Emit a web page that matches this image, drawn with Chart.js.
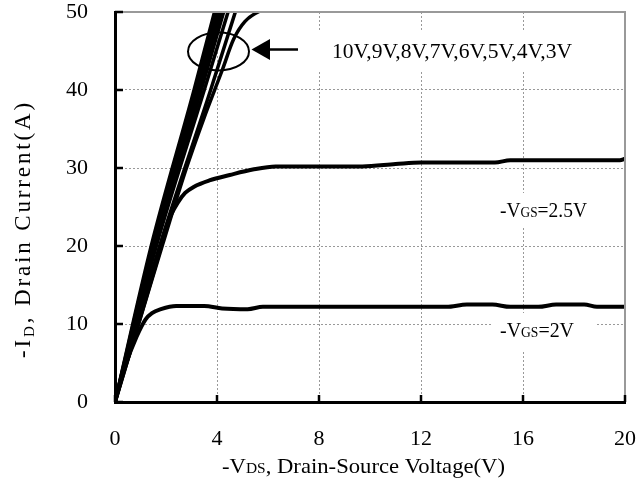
<!DOCTYPE html>
<html>
<head>
<meta charset="utf-8">
<script src="https://cdn.jsdelivr.net/npm/chart.js@4.4.0/dist/chart.umd.min.js"></script>
<style>
  html, body { margin: 0; padding: 0; background: #fff; }
</style>
</head>
<body>
<canvas id="chart" width="638" height="479"></canvas>
<script>
// axis ticks
var xTicks = [0, 4, 8, 12, 16, 20];
var yTicks = [0, 10, 20, 30, 40, 50];

// -VGS = 2V
var vds2 = [0, 0.4, 0.85, 1.2, 1.45, 1.8, 2.4, 3.5, 4.2, 5.2, 5.8, 7, 9, 11, 13, 13.8, 14.8, 15.5, 16.6, 17.3, 18.4, 18.9, 20];
var id2  = [0, 4.6, 8.4, 10.6, 11.4, 11.9, 12.3, 12.3, 12.0, 11.9, 12.2, 12.2, 12.2, 12.2, 12.2, 12.5, 12.5, 12.2, 12.2, 12.5, 12.5, 12.2, 12.2];

// -VGS = 2.5V
var vds25 = [0, 0.8, 1.2, 1.65, 2.0, 2.2, 2.45, 2.75, 3.1, 3.7, 4.5, 5.4, 6.3, 7, 9.7, 11, 12, 14.9, 15.5, 19.8, 20];
var id25  = [0, 8.8, 13.2, 18.2, 22.3, 24.0, 25.5, 26.8, 27.6, 28.4, 29.1, 29.8, 30.2, 30.2, 30.2, 30.5, 30.7, 30.7, 31.0, 31.0, 31.2];

// -VGS = 3V
var vds3 = [0, 1, 1.85, 2.75, 3.5, 4.2, 4.65, 5.1, 5.8, 6.5];
var id3  = [0, 10.8, 20, 29.5, 36.5, 42.5, 46.5, 48.8, 50.3, 51];

// -VGS = 4V .. 10V (nearly linear, run off the top)
var idSteep = [0, 20, 40, 55];
var vds4  = [0, 1.75, 3.75, 5.2];
var vds5  = [0, 1.62, 3.5, 4.9];
var vds6  = [0, 1.57, 3.38, 4.7];
var vds7  = [0, 1.53, 3.3, 4.6];
var vds8  = [0, 1.5, 3.24, 4.5];
var vds9  = [0, 1.46, 3.17, 4.4];
var vds10 = [0, 1.42, 3.1, 4.3];

var F = "'Liberation Serif', 'Times New Roman', serif";

function pts(xs, ys) {
  return xs.map(function (x, i) { return { x: x, y: ys[i] }; });
}

function curve(label, xs, ys, w) {
  return {
    label: label,
    data: pts(xs, ys),
    borderColor: '#000',
    borderWidth: w,
    pointRadius: 0,
    cubicInterpolationMode: 'monotone',
    clip: 0
  };
}

// draw text made of pieces [text, size, dy], fitted to a target width
// spread: use letter spacing instead of stretching the glyphs
function rich(ctx, parts, x, y, width, spread) {
  var w = 0, n = 0;
  parts.forEach(function (p) {
    ctx.font = p[1] + 'px ' + F;
    w += ctx.measureText(p[0]).width;
    n += p[0].length;
  });
  ctx.save();
  ctx.translate(x, y);
  var gap = 0;
  if (width && spread && 'letterSpacing' in ctx) {
    gap = (width - w) / n;
    ctx.letterSpacing = gap + 'px';
  } else if (width) {
    ctx.scale(width / w, 1);
  }
  var cx = 0;
  ctx.textAlign = 'left';
  ctx.textBaseline = 'alphabetic';
  parts.forEach(function (p) {
    ctx.font = p[1] + 'px ' + F;
    ctx.fillText(p[0], cx, p[2] || 0);
    cx += ctx.measureText(p[0]).width + (ctx.letterSpacing ? 0 : 0);
  });
  ctx.restore();
}

var decor = {
  id: 'decor',
  beforeDatasetsDraw: function (chart) {
    var ctx = chart.ctx;
    ctx.save();
    ctx.fillStyle = '#fff';
    ctx.fillRect(310, 32, 290, 38);
    ctx.fillRect(493, 193, 104, 35);
    ctx.fillRect(493, 313, 104, 39);
    ctx.fillStyle = '#000';
    rich(ctx, [['10V,9V,8V,7V,6V,5V,4V,3V', 22]], 332, 58, 240);
    rich(ctx, [['-V', 22], ['GS', 15], ['=2.5V', 22]], 500, 217, 87);
    rich(ctx, [['-V', 22], ['GS', 15], ['=2V', 22]], 500, 337, 74);
    ctx.restore();
  },
  afterDatasetsDraw: function (chart) {
    var ctx = chart.ctx;
    var a = chart.chartArea;
    var xs = chart.scales.x, ys = chart.scales.y;
    ctx.save();
    // top and right frame
    ctx.strokeStyle = '#999';
    ctx.lineWidth = 2;
    ctx.beginPath();
    ctx.moveTo(a.left, a.top);
    ctx.lineTo(a.right, a.top);
    ctx.lineTo(a.right, a.bottom);
    ctx.stroke();
    // inward ticks
    ctx.strokeStyle = '#000';
    ctx.lineWidth = 2.5;
    ctx.beginPath();
    yTicks.forEach(function (v) {
      var py = ys.getPixelForValue(v);
      ctx.moveTo(a.left, py);
      ctx.lineTo(a.left + 8, py);
    });
    xTicks.forEach(function (v) {
      var px = xs.getPixelForValue(v);
      ctx.moveTo(px, a.bottom);
      ctx.lineTo(px, a.bottom - 7);
    });
    ctx.stroke();
    // ellipse round the bundle and arrow
    ctx.lineWidth = 2;
    ctx.beginPath();
    ctx.ellipse(218.5, 51.5, 30.5, 19, 0, 0, Math.PI * 2);
    ctx.stroke();
    ctx.lineWidth = 2.5;
    ctx.beginPath();
    ctx.moveTo(298, 49.5);
    ctx.lineTo(266, 49.5);
    ctx.stroke();
    ctx.fillStyle = '#000';
    ctx.beginPath();
    ctx.moveTo(251.5, 49.5);
    ctx.lineTo(270, 39);
    ctx.lineTo(270, 60);
    ctx.closePath();
    ctx.fill();
    // axis titles
    rich(ctx, [['-V', 22], ['DS', 15], [', Drain-Source Voltage(V)', 22]], 222, 473, 283);
    ctx.translate(30, 358);
    ctx.rotate(-Math.PI / 2);
    rich(ctx, [['-I', 23], ['D', 15, 4], [', Drain Current(A)', 23]], 0, 0, 258, true);
    ctx.restore();
  }
};

var ctx = document.getElementById('chart');

var chart = new Chart(ctx, {
  type: 'line',
  data: {
    datasets: [
      curve('-VGS=2V', vds2, id2, 4),
      curve('-VGS=2.5V', vds25, id25, 4),
      curve('-VGS=3V', vds3, id3, 3.5),
      curve('-VGS=4V', vds4, idSteep, 3.5),
      curve('-VGS=5V', vds5, idSteep, 3.5),
      curve('-VGS=6V', vds6, idSteep, 3.5),
      curve('-VGS=7V', vds7, idSteep, 3.5),
      curve('-VGS=8V', vds8, idSteep, 3.5),
      curve('-VGS=9V', vds9, idSteep, 3.5),
      curve('-VGS=10V', vds10, idSteep, 3.5)
    ]
  },
  options: {
    responsive: false,
    animation: false,
    devicePixelRatio: 1,
    layout: { padding: { left: 0, right: 13, top: 12, bottom: 0 } },
    plugins: {
      legend: { display: false },
      tooltip: { enabled: false }
    },
    scales: {
      x: {
        type: 'linear',
        min: 0,
        max: 20,
        afterBuildTicks: function (s) { s.ticks = xTicks.map(function (v) { return { value: v }; }); },
        afterFit: function (s) { s.height = 77; s.paddingLeft = 0; s.paddingRight = 0; },
        grid: { color: '#999', lineWidth: 1, drawTicks: false },
        border: { color: '#000', width: 3, dash: [2, 2] },
        ticks: { color: '#000', padding: 26, maxRotation: 0, font: { family: F, size: 22, lineHeight: 1 } }
      },
      y: {
        type: 'linear',
        min: 0,
        max: 50,
        afterBuildTicks: function (s) { s.ticks = yTicks.map(function (v) { return { value: v }; }); },
        afterFit: function (s) { s.width = 115; s.paddingTop = 0; s.paddingBottom = 0; },
        grid: { color: '#999', lineWidth: 1, drawTicks: false },
        border: { color: '#000', width: 3, dash: [2, 2] },
        ticks: { color: '#000', padding: 27, font: { family: F, size: 22, lineHeight: 1 } }
      }
    }
  },
  plugins: [decor]
});
</script>
</body>
</html>
